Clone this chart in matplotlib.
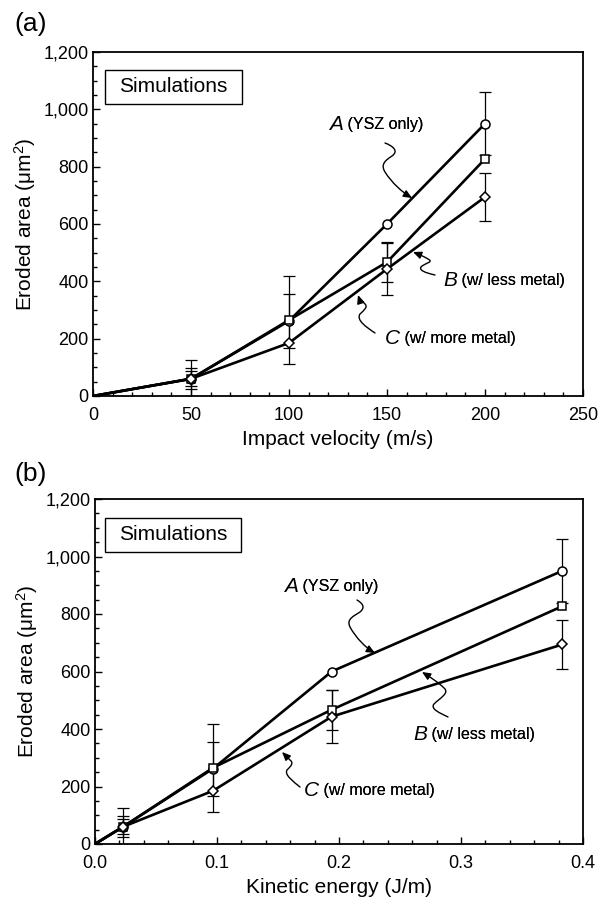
import numpy as np
import matplotlib
matplotlib.use("Agg")
import matplotlib.pyplot as plt
from matplotlib.path import Path
from matplotlib.patches import FancyArrowPatch, Rectangle
from matplotlib.transforms import Affine2D
from matplotlib.ticker import MultipleLocator, FuncFormatter

plt.rcParams['font.family'] = ['Liberation Sans', 'DejaVu Sans']
plt.rcParams['mathtext.fontset'] = 'custom'
plt.rcParams['mathtext.rm'] = 'Liberation Sans'
plt.rcParams['mathtext.it'] = 'Liberation Sans:italic'

# ---------------- data ----------------
velocity = [0, 50, 100, 150, 200]            # m/s
kinetic_energy = [0, 0.023, 0.0967, 0.194, 0.383]  # J/m

area_A = [0, 60, 262, 600, 950]   # YSZ only
area_B = [0, 60, 265, 467, 827]   # w/ less metal
area_C = [0, 60, 185, 443, 694]   # w/ more metal

err_A = [0, 65, 94, 0, 110]
err_B = [0, 37, 154, 70, 0]
err_C = [0, 26, 0, 92, 85]

series_names = ["A", "B", "C"]
series_notes = ["(YSZ only)", "(w/ less metal)", "(w/ more metal)"]
markers = ["o", "s", "D"]
marker_sizes = [6.5, 6.0, 5.5]

W, H = 612, 901
fig = plt.figure(figsize=(W / 100, H / 100), dpi=100)
pix = Affine2D().scale(1 / W, -1 / H).translate(0, 1) + fig.transFigure


def squiggle(points):
    verts = [points[0]]
    codes = [Path.MOVETO]
    for seg in points[1:]:
        verts.extend(seg)
        codes.extend([Path.CURVE4] * 3)
    return Path(verts, codes)


def draw_panel(ax, xvals, xlim, xmajor, xminor, xfmt, xlabel):
    ys = [area_A, area_B, area_C]
    es = [err_A, err_B, err_C]
    for y, e in zip(ys, es):
        xs = [x for x, ee in zip(xvals, e) if ee > 0]
        yy = [v for v, ee in zip(y, e) if ee > 0]
        ee = [v for v in e if v > 0]
        ax.errorbar(xs, yy, yerr=ee, fmt='none', ecolor='black',
                    elinewidth=0.9, capsize=4.5, capthick=0.9, zorder=2)
    for y in ys:
        ax.plot(xvals, y, color='black', lw=1.9, zorder=3, solid_joinstyle='miter')
    for y, m, ms in zip(ys, markers, marker_sizes):
        ax.plot(xvals[1:], y[1:], linestyle='none', marker=m, ms=ms,
                mfc='white', mec='black', mew=1.1, zorder=4)

    ax.set_xlim(*xlim)
    ax.set_ylim(0, 1200)
    ax.xaxis.set_major_locator(MultipleLocator(xmajor))
    ax.xaxis.set_minor_locator(MultipleLocator(xminor))
    ax.yaxis.set_major_locator(MultipleLocator(200))
    ax.yaxis.set_minor_locator(MultipleLocator(50))
    ax.xaxis.set_major_formatter(FuncFormatter(xfmt))
    ax.yaxis.set_major_formatter(FuncFormatter(lambda v, p: f"{int(v):,}"))
    ax.tick_params(which='both', direction='in', top=False, right=False,
                   labelsize=13, width=1.0)
    ax.tick_params(which='major', length=5)
    ax.tick_params(axis='x', which='major', pad=8)
    ax.tick_params(axis='y', which='major', pad=3)
    ax.tick_params(which='minor', length=3)
    for s in ax.spines.values():
        s.set_linewidth(1.3)
    ax.set_xlabel(xlabel, fontsize=15, labelpad=4)
    ax.set_ylabel(r"Eroded area ($\mathrm{\mu}$m$^2$)", fontsize=15, labelpad=4)


# panel (a)
axa = fig.add_axes([93 / W, 1 - 396 / H, 490 / W, 344 / H])
draw_panel(axa, velocity, (0, 250), 50, 10, lambda v, p: f"{int(v)}",
           "Impact velocity (m/s)")
# panel (b)
axb = fig.add_axes([95 / W, 1 - 844 / H, 488 / W, 345 / H])
draw_panel(axb, kinetic_energy, (0, 0.4), 0.1, 0.02, lambda v, p: f"{v:.1f}",
           "Kinetic energy (J/m)")

# panel letters
fig.text(14 / W, 1 - 24 / H, "(a)", fontsize=19, va='center', ha='left')
fig.text(14 / W, 1 - 474 / H, "(b)", fontsize=19, va='center', ha='left')

# Simulations boxes
for (x0, y0, x1, y1) in [(105, 70, 242, 104), (105, 518, 241, 552)]:
    rect = Rectangle((x0, y0), x1 - x0, y1 - y0, transform=pix, fill=False,
                     edgecolor='black', lw=1.0, zorder=5)
    fig.add_artist(rect)
    fig.text((x0 + x1) / 2 / W, 1 - (y0 + y1) / 2 / H, "Simulations",
             fontsize=15, ha='center', va='center')

# series labels: (left x, center y) in reference pixels
label_pos = {
    'a': [(329, 125), (443, 280), (385, 338)],
    'b': [(284, 587), (413, 735), (304, 790)],
}
for key in ['a', 'b']:
    for (x, y), name, note in zip(label_pos[key], series_names, series_notes):
        t = fig.text(x / W, 1 - y / H, name, fontsize=15, style='italic',
                     ha='left', va='center')
        an = plt.annotate(" " + note, xy=(1.0, 0.5), xycoords=t,
                          fontsize=11.5, ha='left', va='center',
                          annotation_clip=False)
        fig.add_artist(an)

# squiggle arrows in reference pixel coords
arrows = [
    # panel a
    [(385, 143), ((393, 146), (399, 151), (392, 156)),
     ((386, 160), (380, 164), (385, 172)),
     ((392, 183), (402, 192), (412, 198))],
    [(435, 275), ((426, 273), (417, 270), (422, 266)),
     ((426, 263), (434, 262), (428, 259)),
     ((423, 256), (418, 254), (413, 252))],
    [(375, 333), ((366, 327), (356, 320), (360, 314)),
     ((364, 310), (369, 307), (364, 303)),
     ((361, 300), (359, 298), (358, 295))],
    # panel b
    [(357, 600), ((362, 603), (366, 607), (360, 612)),
     ((354, 616), (346, 619), (350, 627)),
     ((356, 638), (366, 648), (375, 653))],
    [(448, 717), ((440, 713), (430, 709), (434, 704)),
     ((440, 698), (450, 693), (444, 688)),
     ((438, 682), (430, 677), (422, 672))],
    [(300, 787), ((294, 782), (284, 775), (287, 770)),
     ((291, 766), (294, 763), (290, 760)),
     ((287, 757), (284, 754), (282, 752))],
]
for pts in arrows:
    p = squiggle(pts)
    arr = FancyArrowPatch(path=p, arrowstyle='-|>,head_length=5,head_width=2.2',
                          transform=pix, color='black', lw=1.0,
                          mutation_scale=1, zorder=6)
    fig.add_artist(arr)

fig.savefig("out.png", dpi=100)
